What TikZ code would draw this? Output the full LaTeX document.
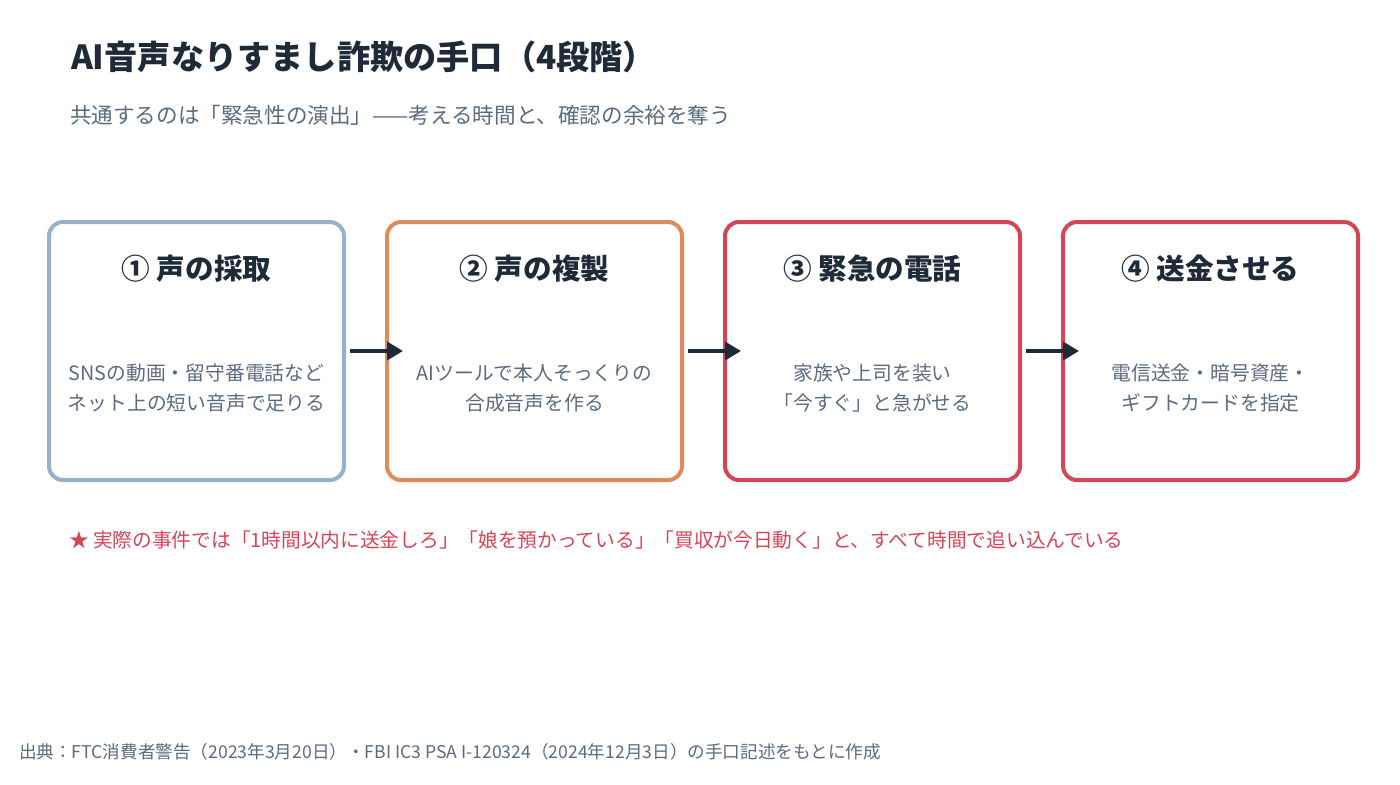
\documentclass[tikz,border=0pt]{standalone}
\usepackage{fontspec}
\setmainfont{Noto Sans CJK JP}
\usetikzlibrary{arrows.meta}
\definecolor{ink}{HTML}{1E2A38}
\definecolor{body}{HTML}{5A6B80}
\definecolor{cA}{HTML}{9AB0C8}
\definecolor{cB}{HTML}{E08A5A}
\definecolor{cC}{HTML}{D64557}
\begin{document}
\begin{tikzpicture}[x=0.5pt,y=-0.5pt,
  box/.style={draw,line width=2pt,rounded corners=7pt},
  btitle/.style={font=\fontsize{14.3}{16}\selectfont\bfseries,text=ink},
  btext/.style={font=\fontsize{9.9}{15}\selectfont,text=body,align=center},
  arr/.style={-{Triangle[length=8pt,width=9pt]},line width=2pt,draw=ink}]
\useasboundingbox (0,0) rectangle (1400,784);
\node[anchor=west,font=\fontsize{16.6}{20}\selectfont\bfseries,text=ink] (t) at (64,57) {AI音声なりすまし詐欺の手口（4段階）};
\node[anchor=west,font=\fontsize{10.8}{12}\selectfont,text=body] (s) at (63,115) {共通するのは「緊急性の演出」——考える時間と、確認の余裕を奪う};
\foreach \i/\x/\c/\tt/\bt in {
 1/49/cA/{① 声の採取}/{SNSの動画・留守番電話など\\ネット上の短い音声で足りる},
 2/387/cB/{② 声の複製}/{AIツールで本人そっくりの\\合成音声を作る},
 3/725/cC/{③ 緊急の電話}/{家族や上司を装い\\「今すぐ」と急がせる},
 4/1063/cC/{④ 送金させる}/{電信送金・暗号資産・\\ギフトカードを指定}} {
  \draw[box,draw=\c] (\x,222) rectangle ++(295,258);
  \node[btitle] (h\i) at (\x+147.5,269) {\tt};
  \node[btext] (b\i) at (\x+147.5,388) {\bt};
  \coordinate (L\i) at (\x+16,351);
  \coordinate (R\i) at (\x+301,351);
}
\draw[arr] (R1) -- (L2);
\draw[arr] (R2) -- (L3);
\draw[arr] (R3) -- (L4);
\node[anchor=west,font=\fontsize{9.85}{12}\selectfont,text=cC] (n) at (62,540) {★ 実際の事件では「1時間以内に送金しろ」「娘を預かっている」「買収が今日動く」と、すべて時間で追い込んでいる};
\node[anchor=west,font=\fontsize{8.8}{10}\selectfont,text=body] (f) at (12,752) {出典：FTC消費者警告（2023年3月20日）・FBI IC3 PSA I-120324（2024年12月3日）の手口記述をもとに作成};
\end{tikzpicture}
\end{document}
